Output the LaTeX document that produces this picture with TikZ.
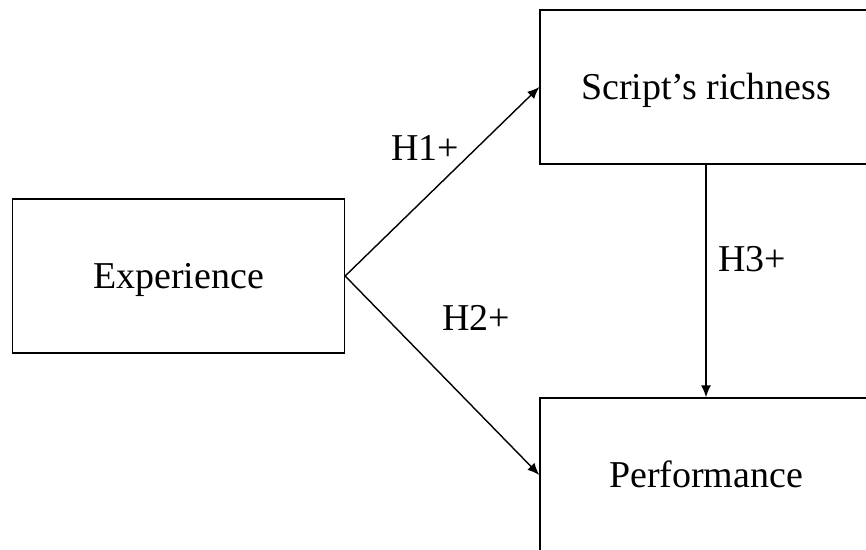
\documentclass[tikz,border=0pt]{standalone}
\usepackage{fontspec}
\setmainfont{Liberation Serif}
\usetikzlibrary{arrows.meta}

\begin{document}
\begin{tikzpicture}[x=0.02cm, y=-0.02cm,
	box/.style={draw, line width=0.8pt, minimum width=6.64cm, minimum height=3.08cm, text height=14.3pt, text depth=0pt, font=\fontsize{21.6}{26}\selectfont},
	hyp/.style={text height=14.3pt, text depth=0pt, inner sep=0pt, font=\fontsize{21.6}{26}\selectfont},
	link/.style={line width=0.8pt, -{Latex[length=0.24cm, width=0.2cm]}}]
		\clip (0,0) rectangle (866,550);
		\node[box] (exp)at(178.5,276) {Experience};
		\node[box] (script)at(706,87) {Script's richness};
		\node[box] (perf)at(706,475) {Performance};
		\node[hyp] (h1)at(425,148) {H1+};
		\node[hyp] (h2)at(476,318) {H2+};
		\node[hyp] (h3)at(752,259) {H3+};
		\draw[link] (exp.east) -- (script.west);
		\draw[link] (exp.east) -- (perf.west);
		\draw[link] (script.south) -- (perf.north);
	\end{tikzpicture}
\end{document}
